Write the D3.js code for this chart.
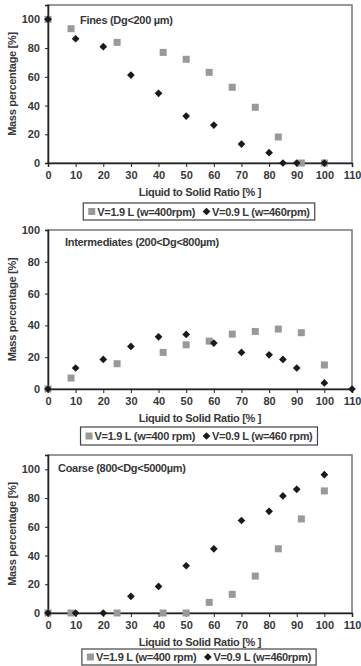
<!DOCTYPE html>
<html>
<head>
<meta charset="utf-8">
<script src="https://cdn.jsdelivr.net/npm/d3@7"></script>
<style>
  body { margin: 0; background: #fff; }
  svg { display: block; font-family: "Liberation Sans", Arial, sans-serif; font-weight: bold; }
  .tick text { font-size: 11px; fill: #383838; font-weight: bold; }
  .titulo, .eje, .leyenda text { font-size: 11px; fill: #383838; letter-spacing: -0.3px; }
</style>
</head>
<body>
<script>
"use strict";

// x positions (liquid to solid ratio, %)
const xCuadros = [0, 8.33, 25, 41.67, 50, 58.33, 66.67, 75, 83.33, 91.67, 100];
const xRombos = [0, 10, 20, 30, 40, 50, 60, 70, 80, 85, 90, 100];
const xRombosInter = [0, 10, 20, 30, 40, 50, 60, 70, 80, 85, 90, 100, 110];

// Fines
const finosCuadros = [100, 93.5, 84, 77, 72.2, 63.1, 52.7, 38.8, 18.1, 0, 0];
const finosRombos = [100, 86.5, 81, 61.2, 48.5, 32.7, 26.4, 13.2, 7.2, 0, 0, 0];
// Intermediates
const interCuadros = [0, 6.9, 15.9, 23, 27.8, 30.1, 34.5, 36.2, 37.7, 35.4, 15.1];
const interRombos = [0, 13.2, 18.6, 26.8, 32.8, 34.3, 28.9, 23, 21.5, 18.6, 13.2, 3.8, 0];
// Coarse
const gruesosCuadros = [0, 0, 0, 0, 0, 7.4, 13, 25.7, 44.7, 65.5, 85];
const gruesosRombos = [0, 0, 0, 11.6, 18.5, 32.9, 44.7, 64.4, 70.8, 81.5, 86.1, 96.3];

const ticksX = [0, 10, 20, 30, 40, 50, 60, 70, 80, 90, 100, 110];
const ticksY = [0, 20, 40, 60, 80, 100];

const paneles = [
    { titulo: "Fines (Dg<200 µm)", tx: 80, ty: 24, cx: xCuadros, cy: finosCuadros, rx: xRombos, ry: finosRombos,
      top: 5, bottom: 163, ymax: 110,
      ley: ["V=1.9 L (w=400rpm)", "V=0.9 L (w=460rpm)"], leyY: 203, leyH: 17 },
    { titulo: "Intermediates (200<Dg<800µm)", tx: 65, ty: 246, cx: xCuadros, cy: interCuadros, rx: xRombosInter, ry: interRombos,
      top: 230, bottom: 389, ymax: 100,
      ley: ["V=1.9 L (w=400 rpm)", "V=0.9 L (w=460 rpm)"], leyY: 427, leyH: 18 },
    { titulo: "Coarse (800<Dg<5000µm)", tx: 58, ty: 472, cx: xCuadros, cy: gruesosCuadros, rx: xRombos, ry: gruesosRombos,
      top: 455, bottom: 613, ymax: 110,
      ley: ["V=1.9 L (w=400 rpm)", "V=0.9 L (w=460rpm)"], leyY: 649, leyH: 16 }
];

const svg = d3.select("body").append("svg").attr("width", 361).attr("height", 666);
const left = 48, right = 352;
const x = d3.scaleLinear().domain([0, 110]).range([left, right]);

paneles.forEach(function (p) {
    const y = d3.scaleLinear().domain([0, p.ymax]).range([p.bottom, p.top]);
    const g = svg.append("g");

    // marco
    g.append("rect")
        .attr("x", left).attr("y", p.top)
        .attr("width", right - left).attr("height", p.bottom - p.top)
        .attr("fill", "none").attr("stroke", "#777").attr("stroke-width", 1.5);

    const ejeX = g.append("g").attr("transform", "translate(0," + p.bottom + ")")
        .call(d3.axisBottom(x).tickValues(ticksX).tickSize(4).tickPadding(4));
    const ejeY = g.append("g").attr("transform", "translate(" + left + ",0)")
        .call(d3.axisLeft(y).tickValues(ticksY).tickSize(3).tickPadding(5));
    [ejeX, ejeY].forEach(function (e) {
        e.select(".domain").attr("stroke", "#222").attr("stroke-width", 1.5);
        e.selectAll(".tick line").attr("stroke", "#222");
    });

    g.append("text").attr("class", "eje")
        .attr("x", 200).attr("y", p.bottom + 33)
        .attr("text-anchor", "middle")
        .text("Liquid to Solid Ratio [% ]");
    g.append("text").attr("class", "eje")
        .attr("transform", "translate(16," + ((p.top + p.bottom) / 2) + ") rotate(-90)")
        .attr("text-anchor", "middle")
        .text("Mass percentage [%]");

    g.append("text").attr("class", "titulo")
        .attr("x", p.tx).attr("y", p.ty)
        .text(p.titulo);

    // cuadros
    g.selectAll(".cuadro").data(p.cx.map((d, i) => [d, p.cy[i]])).enter()
        .append("rect").attr("class", "cuadro")
        .attr("x", d => x(d[0]) - 3.5).attr("y", d => y(d[1]) - 3.5)
        .attr("width", 7).attr("height", 7)
        .attr("fill", "#999");

    // rombos
    const rombo = d3.symbol().type(d3.symbolDiamond2).size(38);
    g.selectAll(".rombo").data(p.rx.map((d, i) => [d, p.ry[i]])).enter()
        .append("path").attr("class", "rombo")
        .attr("d", rombo)
        .attr("transform", d => "translate(" + x(d[0]) + "," + y(d[1]) + ")")
        .attr("fill", "#1a1a1a");

    // leyenda
    const ley = g.append("g").attr("class", "leyenda");
    const caja = ley.append("rect").attr("fill", "none").attr("stroke", "#444").attr("stroke-width", 1.2);
    const cyL = p.leyY + p.leyH / 2;
    let cx = 0;
    const items = ley.append("g");
    p.ley.forEach(function (t, i) {
        if (i === 0) {
            items.append("rect").attr("x", cx).attr("y", cyL - 3.5).attr("width", 7).attr("height", 7).attr("fill", "#999");
        } else {
            items.append("path").attr("d", rombo).attr("transform", "translate(" + (cx + 3.5) + "," + cyL + ")").attr("fill", "#1a1a1a");
        }
        const tx = items.append("text").attr("x", cx + 9).attr("y", cyL + 4).text(t);
        cx += 9 + tx.node().getComputedTextLength() + 8;
    });
    const ancho = cx - 8;
    const x0 = 199 - ancho / 2;
    items.attr("transform", "translate(" + x0 + ",0)");
    caja.attr("x", x0 - 5).attr("y", p.leyY).attr("width", ancho + 10).attr("height", p.leyH);
});
</script>
</body>
</html>
